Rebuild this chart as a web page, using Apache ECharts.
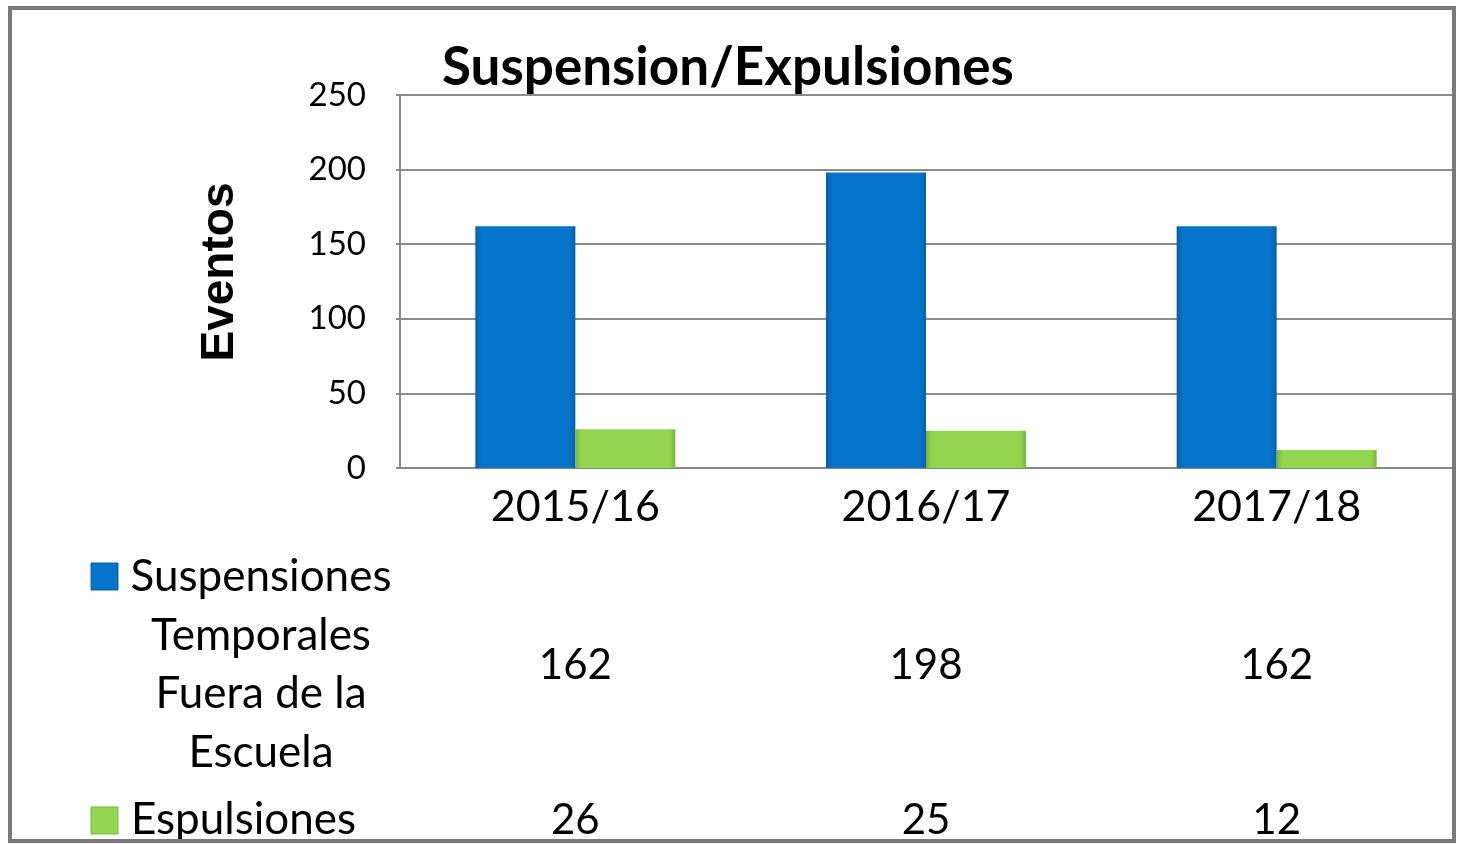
<!DOCTYPE html>
<html>
<head>
<meta charset="utf-8">
<script src="https://cdn.jsdelivr.net/npm/echarts@6/dist/echarts.min.js"></script>
<style>
  html, body { margin: 0; padding: 0; background: #fff; }
  #main { width: 1462px; height: 844px; }
</style>
</head>
<body>
<div id="main"></div>
<script>
// data
const years = ['2015/16', '2016/17', '2017/18'];
const suspensiones = [162, 198, 162];
const expulsiones = [26, 25, 12];
const seriesNames = ['Suspensiones\nTemporales\nFuera de la\nEscuela', 'Espulsiones'];
const yTicks = { min: 0, max: 250, interval: 50 };

const font = 'Lato, "Open Sans", sans-serif';

function bevel(mid, edge) {
    return {
        type: 'linear', x: 0, y: 0, x2: 1, y2: 0,
        colorStops: [
            { offset: 0, color: edge },
            { offset: 0.06, color: mid },
            { offset: 0.94, color: mid },
            { offset: 1, color: edge }
        ]
    };
}
const blueFill = bevel('#0674ca', '#0a5ea8');
const greenFill = bevel('#93d54f', '#79b53e');

const chart = echarts.init(document.getElementById('main'));

const option = {
    backgroundColor: '#fff',
    animation: false,
    title: {
        text: 'Suspension/Expulsiones',
        left: 437,
        top: 36,
        textStyle: { fontFamily: font, fontWeight: 'bold', fontSize: 53, color: '#000' }
    },
    grid: { left: 400, right: 10, top: 95, bottom: 376 },
    xAxis: {
        type: 'category',
        data: years,
        axisLine: { lineStyle: { color: '#888', width: 2 } },
        axisTick: { show: false },
        axisLabel: { fontFamily: font, fontSize: 43, color: '#000', margin: 18 }
    },
    yAxis: {
        type: 'value',
        min: yTicks.min,
        max: yTicks.max,
        interval: yTicks.interval,
        axisLine: { show: true, lineStyle: { color: '#888', width: 2 } },
        axisTick: { show: true, length: 4, lineStyle: { color: '#888', width: 2 } },
        axisLabel: { fontFamily: font, fontSize: 33, color: '#000', margin: 34 },
        splitLine: { lineStyle: { color: '#8c8c8c', width: 2 } }
    },
    series: [
        {
            name: 'Suspensiones Temporales Fuera de la Escuela',
            type: 'bar',
            data: suspensiones,
            barWidth: 100,
            barGap: '0%',
            itemStyle: { color: blueFill, shadowBlur: 4, shadowColor: 'rgba(0,0,0,0.3)', shadowOffsetY: 1 }
        },
        {
            name: 'Espulsiones',
            type: 'bar',
            data: expulsiones,
            barWidth: 100,
            barGap: '0%',
            itemStyle: { color: greenFill, shadowBlur: 4, shadowColor: 'rgba(0,0,0,0.3)', shadowOffsetY: 1 }
        }
    ]
};
chart.setOption(option);

// data table under the axis, placed from the category scale
function buildTable() {
    const els = [];
    els.push({
        type: 'rect', shape: { x: 10, y: 8, width: 1444, height: 833 },
        style: { fill: 'none', stroke: '#7a7a7a', lineWidth: 4 }, z: 100
    });
    els.push({
        type: 'text', x: 220, y: 272, rotation: Math.PI / 2,
        style: { text: 'Eventos', font: 'bold 46px "Liberation Sans", Arial, sans-serif', fill: '#000', align: 'center', verticalAlign: 'middle' }
    });
    els.push({ type: 'rect', shape: { x: 91, y: 563, width: 27, height: 27 }, style: { fill: '#0674ca', stroke: '#0a5ea8', lineWidth: 1 } });
    els.push({ type: 'rect', shape: { x: 91, y: 807, width: 27, height: 27 }, style: { fill: '#93d54f', stroke: '#79b53e', lineWidth: 1 } });
    els.push({
        type: 'text', x: 261, y: 548,
        style: { text: seriesNames[0], font: '44px ' + font, fill: '#000', align: 'center', verticalAlign: 'top', lineHeight: 58.5 }
    });
    els.push({
        type: 'text', x: 131, y: 820,
        style: { text: seriesNames[1], font: '44px ' + font, fill: '#000', align: 'left', verticalAlign: 'middle' }
    });
    years.forEach(function (yr, i) {
        const x = chart.convertToPixel({ xAxisIndex: 0 }, yr);
        els.push({
            type: 'text', x: x, y: 665,
            style: { text: String(suspensiones[i]), font: '42px ' + font, fill: '#000', align: 'center', verticalAlign: 'middle' }
        });
        els.push({
            type: 'text', x: x, y: 820,
            style: { text: String(expulsiones[i]), font: '42px ' + font, fill: '#000', align: 'center', verticalAlign: 'middle' }
        });
    });
    chart.setOption({ graphic: els });
}
buildTable();
</script>
</body>
</html>
